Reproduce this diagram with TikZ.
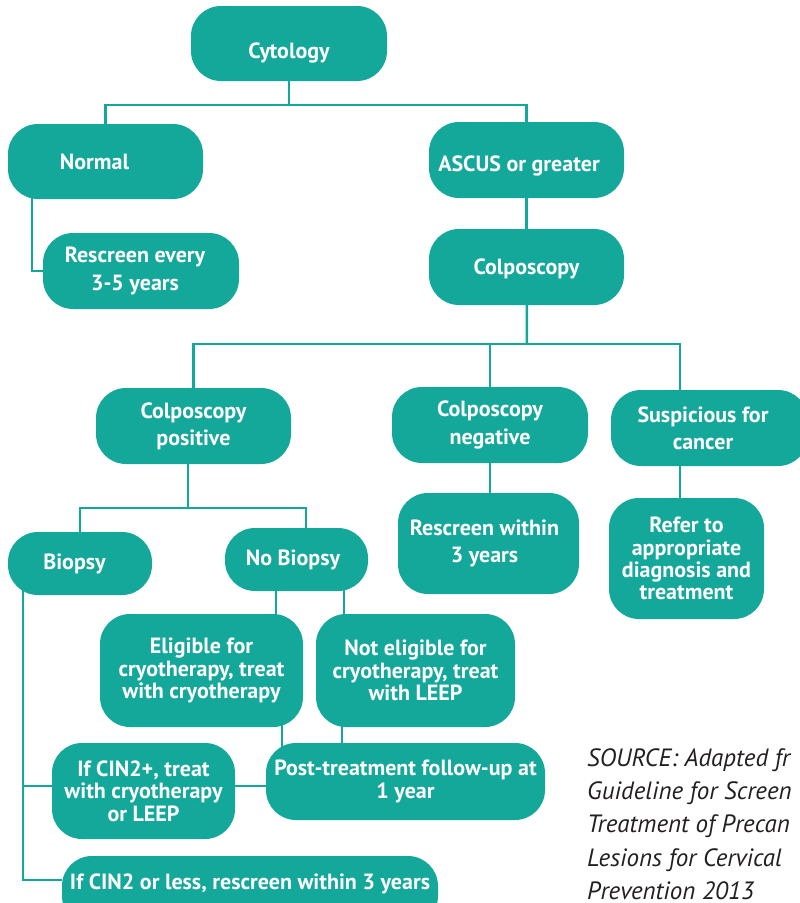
\documentclass[tikz,border=0pt]{standalone}
\usepackage{fontspec}
\setmainfont{PT Sans}
\usetikzlibrary{backgrounds}
\definecolor{tealbox}{RGB}{20,168,155}
\definecolor{srcgray}{RGB}{35,31,32}
\newcommand\dn[2]{\raisebox{-#1}[\height][\depth]{#2}}
\newcommand\padr[1]{\rule{#1}{0pt}}
\begin{document}
\begin{tikzpicture}[x=1pt,y=-1pt,
  box/.style={fill=tealbox, text=white, rounded corners=30pt, inner sep=0pt,
    font=\fontsize{22}{22.3}\selectfont\bfseries, align=center},
  conn/.style={draw=tealbox, line width=2.5pt},
  srctext/.style={font=\fontsize{25}{33.4}\selectfont\itshape, text=srcgray, align=left, inner sep=0pt}
]
\useasboundingbox (0,0) rectangle (800,903);
\clip (0,0) rectangle (800,903);

% boxes
\node[box, minimum width=196pt, minimum height=75pt] (cyt) at (289,43.5) {\dn{9pt}{Cytology}};
\node[box, minimum width=195pt, minimum height=75pt] (normal) at (105.5,161.5) {Normal\padr{22pt}};
\node[box, minimum width=196pt, minimum height=76pt] (resc1) at (141,271) {Rescreen every\padr{12pt}\\[5pt]3-5 years\padr{12pt}};
\node[box, minimum width=195pt, minimum height=76pt] (ascus) at (526.5,160) {\dn{6pt}{ASCUS or greater\padr{15pt}}};
\node[box, minimum width=195pt, minimum height=76pt] (colpo) at (526.5,267) {\dn{2pt}{Colposcopy}};
\node[box, minimum width=195pt, minimum height=76pt] (cpos) at (193.5,426) {Colposcopy\\[5pt]positive};
\node[box, minimum width=196pt, minimum height=76pt] (cneg) at (490,425) {Colposcopy\\[5pt]negative};
\node[box, minimum width=197pt, minimum height=76pt] (susp) at (709.5,428) {Suspicious for\padr{13pt}\\[5pt]cancer\padr{13pt}};
\node[box, minimum width=181pt, minimum height=101pt] (resc3) at (488.5,543.5) {Rescreen within\padr{8pt}\\[5pt]3 years\padr{8pt}};
\node[box, minimum width=155pt, minimum height=121pt] (refer) at (686.5,558.5) {Refer to\\appropriate\\diagnosis and\\treatment};
\node[box, minimum width=144pt, minimum height=63pt] (biopsy) at (80,563.5) {Biopsy\padr{11pt}};
\node[box, minimum width=143pt, minimum height=63pt] (nobiopsy) at (296.5,559.5) {No Biopsy\padr{7pt}};
\node[box, minimum width=203pt, minimum height=113pt] (elig) at (201.5,670.5) {Eligible for\\cryotherapy, treat\\with cryotherapy};
\node[box, minimum width=199pt, minimum height=113pt] (nelig) at (415.5,670.5) {Not eligible for\\cryotherapy, treat\\with LEEP};
\node[box, minimum width=279pt, minimum height=77pt] (post) at (405.5,781.5) {Post-treatment follow-up at\\1 year};
\node[box, minimum width=183pt, minimum height=96pt] (cin2p) at (143.5,791) {If CIN2+, treat\\with cryotherapy\\or LEEP};
\node[box, minimum width=376pt, minimum height=70pt] (cin2l) at (250,891) {\dn{-7pt}{If CIN2 or less, rescreen within 3 years}};

\node[srctext, anchor=north west] (src) at (587,748) {SOURCE: Adapted fr\\Guideline for Screen\\Treatment of Precan\\Lesions for Cervical\\Prevention 2013};

% connectors
\begin{pgfonlayer}{background}
\coordinate (j1) at (289,105);
\draw[conn] (cyt.center) -- (j1);
\draw[conn] (normal.center) |- (j1) -| (ascus.center);
\draw[conn] ([xshift=-73.5pt]normal.center) |- (resc1.west);
\draw[conn] (ascus.center) -- (colpo.center);

\coordinate (j2) at (527,344);
\coordinate (sd) at ([xshift=-29.5pt]susp.center);
\draw[conn] (colpo.center) -- (j2);
\draw[conn] (cpos.center) |- (j2) -| (sd);
\draw[conn] (cneg.center) |- (j2);
\draw[conn] (cneg.center) -- (cneg.center |- resc3.center);
\draw[conn] (sd) -- (sd |- refer.center);

\coordinate (j3) at (188,508);
\coordinate (nb1) at ([xshift=9.5pt]nobiopsy.center);
\draw[conn] (j3 |- cpos.center) -- (j3);
\draw[conn] (biopsy.center) |- (j3) -| (nb1);

\coordinate (bl) at ([xshift=-57pt]biopsy.center);
\coordinate (cp) at ([yshift=5pt]cin2p.center);
\draw[conn] (bl) |- ([yshift=11pt]cin2l.west);
\draw[conn] (bl |- cp) -- (cp -| post.center);

\draw[conn] ([xshift=-20.5pt]nobiopsy.center) |- (elig.center);
\draw[conn] ([xshift=47.5pt]nobiopsy.center) |- (nelig.center);
\draw[conn] ([xshift=80.5pt]elig.center) |- (post.center);
\draw[conn] ([xshift=-73.5pt]nelig.center) |- (post.center);
\end{pgfonlayer}
\end{tikzpicture}
\end{document}
